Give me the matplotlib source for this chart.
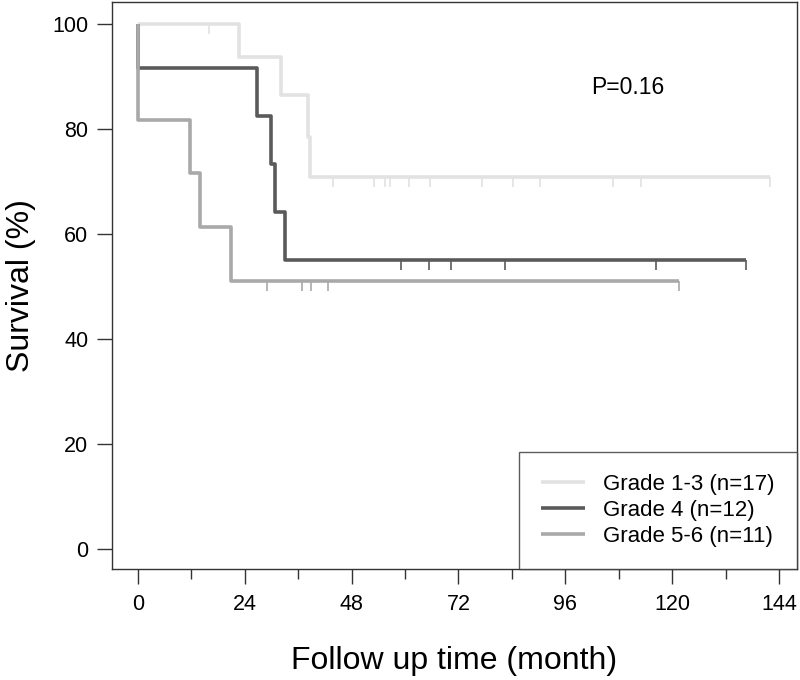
import matplotlib
matplotlib.use('Agg')
import matplotlib.pyplot as plt
from matplotlib.ticker import MultipleLocator

plt.rcParams['font.family'] = ['Liberation Sans', 'DejaVu Sans']

# Kaplan-Meier steps (months, % surviving)
g13_t = [0, 22.7, 32.1, 38.2, 38.7, 142]
g13_s = [100, 93.7, 86.5, 78.5, 70.9, 70.9]
g13_cens = [16, 43.8, 53, 55.5, 56.6, 61, 65.6, 77.3, 84.3, 90.3, 106.7, 113, 142]

g4_t = [0, 0, 26.7, 29.9, 30.7, 33.0, 136.6]
g4_s = [100, 91.7, 82.5, 73.3, 64.2, 55.0, 55.0]
g4_cens = [59.2, 65.3, 70.3, 82.4, 116.3, 136.6]

g56_t = [0, 0, 11.8, 13.9, 20.9, 121.5]
g56_s = [100, 81.8, 71.6, 61.4, 51.1, 51.1]
g56_cens = [28.9, 36.8, 38.9, 42.8, 121.5]

labels = ['Grade 1-3 (n=17)', 'Grade 4 (n=12)', 'Grade 5-6 (n=11)']
colors = ['#e2e2e2', '#5a5a5a', '#a9a9a9']


def at(times, surv, t):
    # survival value in force at time t
    v = surv[0]
    for ti, si in zip(times, surv):
        if ti <= t:
            v = si
    return v


fig = plt.figure(figsize=(8, 6.8), dpi=100)
ax = fig.add_axes([0.14, 0.163, 0.856, 0.834])

groups = [(g13_t, g13_s, g13_cens), (g4_t, g4_s, g4_cens), (g56_t, g56_s, g56_cens)]
for (t, s, c), lab, col in zip(groups, labels, colors):
    ax.step(t, s, where='post', color=col, lw=2.6, label=lab, solid_capstyle='butt')
    ax.plot(c, [at(t, s, x) for x in c], ls='none', marker=3, ms=7, mew=1.2, color=col)

ax.set_xlim(-5.8, 148)
ax.set_ylim(-3.8, 104.2)
ax.xaxis.set_major_locator(MultipleLocator(24))
ax.xaxis.set_minor_locator(MultipleLocator(12))
ax.yaxis.set_major_locator(MultipleLocator(20))
ax.tick_params(axis='both', which='major', direction='out', length=11, width=1, color='#333333',
               labelsize=15.5, pad=6)
ax.tick_params(axis='x', which='minor', direction='out', length=7, width=1, color='#333333')
ax.tick_params(axis='x', which='major', pad=7)
for sp in ax.spines.values():
    sp.set_color('#333333')
    sp.set_linewidth(1)

ax.set_xlabel('Follow up time (month)', fontsize=23, labelpad=22)
ax.set_ylabel('Survival (%)', fontsize=23, labelpad=12)

ax.text(0.70, 0.85, 'P=0.16', transform=ax.transAxes, fontsize=16.5, va='center', ha='left')

leg = ax.legend(loc='lower right', fontsize=16, frameon=True, fancybox=False,
                borderaxespad=0, handlelength=2.0, handletextpad=0.8,
                borderpad=1.0, labelspacing=0.22, edgecolor='#333333')
leg.get_frame().set_linewidth(1)

fig.savefig('out.png', dpi=100)
